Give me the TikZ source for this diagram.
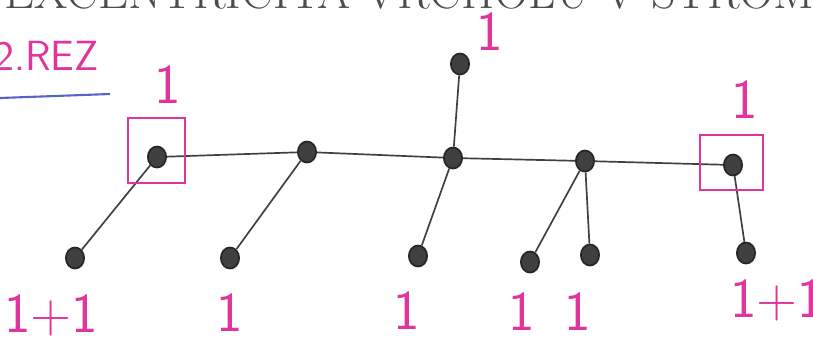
\documentclass[tikz,border=0pt]{standalone}
\usepackage{tikz}
\usetikzlibrary{shapes.geometric, positioning}
\definecolor{penpink}{HTML}{E0359C}
\definecolor{penblue}{HTML}{5A62C8}

\begin{document}
\begin{tikzpicture}[
    x=0.025cm, y=-0.025cm,
    vertex/.style={
        ellipse, draw=black!85, line width=1.2pt,
        fill=black!75,
        minimum width=13pt, minimum height=15pt, inner sep=0pt
    },
    edge/.style={
        draw=black!75, line width=1.2pt
    },
    mark box/.style={
        draw=penpink, line width=1.3pt
    },
    ecc/.style={
        text=penpink, font=\sffamily\fontsize{40}{42}\selectfont, inner sep=0pt
    }
]
\useasboundingbox (0,0) rectangle (813,345);

% Heading (cut off at the top)
\node[anchor=base west, font=\fontsize{34}{36}\selectfont, text=black!70, inner sep=0pt] (head) at (4,8) {EXCENTRICITA VRCHOLŮ V STROMU};

% Title
\node[text=penpink, font=\sffamily\fontsize{30}{32}\selectfont, anchor=west, inner sep=0pt] (rez) at (-6,56) {2.REZ};
\coordinate (ulA) at (0,98);
\coordinate (ulB) at (110,94);
\draw[penblue, line width=1.5pt] (ulA) -- (ulB);

% Spine of the tree
\node[vertex] (a) at (157,157) {};
\node[vertex] (b) at (307,152) {};
\node[vertex] (c) at (453,158) {};
\node[vertex] (d) at (585,161) {};
\node[vertex] (e) at (733,165) {};
\node[vertex] (t) at (460,64) {};

% Leaves
\node[vertex] (la) at (75,258) {};
\node[vertex] (lb) at (230,258) {};
\node[vertex] (lc) at (418,256) {};
\node[vertex] (ld1) at (530,262) {};
\node[vertex] (ld2) at (590,255) {};
\node[vertex] (le) at (746,253) {};

% Edges
\draw[edge] (a) -- (b) -- (c) -- (d) -- (e);
\draw[edge] (c) -- (t);
\draw[edge] (a) -- (la);
\draw[edge] (b) -- (lb);
\draw[edge] (c) -- (lc);
\draw[edge] (d) -- (ld1);
\draw[edge] (d) -- (ld2);
\draw[edge] (e) -- (le);

% Boxed centre vertices
\draw[mark box] (128,118) rectangle (185,183);
\draw[mark box] (700,135) rectangle (763,190);

% Eccentricities
\node[ecc] (ea) at (168,85) {1};
\node[ecc] (et) at (490,32) {1};
\node[ecc] (ee) at (745,100) {1};
\node[ecc, anchor=west] (ela) at (4,315) {1+1};
\node[ecc] (elb) at (230,313) {1};
\node[ecc] (elc) at (407,311) {1};
\node[ecc] (eld1) at (522,312) {1};
\node[ecc] (eld2) at (578,312) {1};
\node[ecc, anchor=west] (ele) at (730,300) {1+1};

\end{tikzpicture}
\end{document}
